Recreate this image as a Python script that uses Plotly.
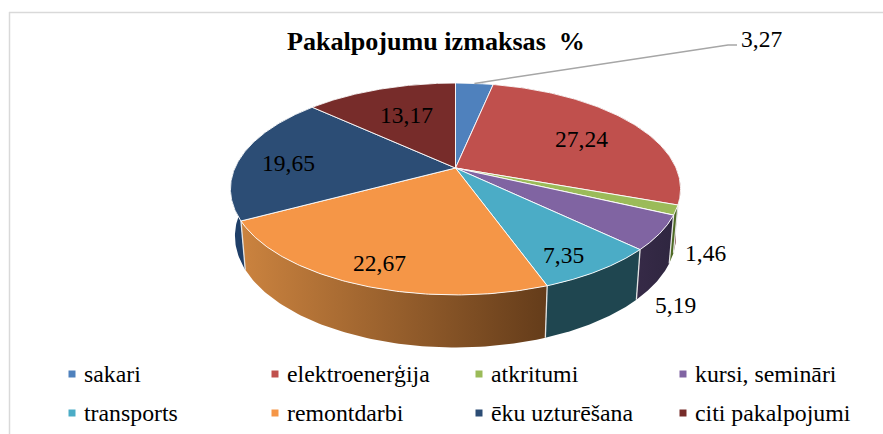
import numpy as np
import plotly.graph_objects as go

categories = ["sakari", "elektroenerģija", "atkritumi", "kursi, semināri",
              "transports", "remontdarbi", "ēku uzturēšana", "citi pakalpojumi"]
values = [3.27, 27.24, 1.46, 5.19, 7.35, 22.67, 19.65, 13.17]
value_labels = ["3,27", "27,24", "1,46", "5,19", "7,35", "22,67", "19,65", "13,17"]
top_colors = ["#4F81BD", "#C0504D", "#9BBB59", "#8064A2", "#4BACC6", "#F59647", "#2C4D75", "#772C2A"]
side_left = ["#2F4D71", "#733230", "#4E6A24", "#362A47", "#1F4650", "#CB833F", "#1F3F68", "#4A1C1A"]
side_right = ["#2F4D71", "#733230", "#4E6A24", "#2F2640", "#1F4650", "#643C1A", "#1F3F68", "#4A1C1A"]

FONT = "'Liberation Serif', 'Times New Roman', Times, serif"

# Page-pixel axes: projection of the tilted pie
CX, CY = 455.5, 168.0
A, B, K = 220.6, 101.8, 0.198
CY_B, B_B, SX_B = 214.0, 107.0, 0.98

label_xy = [(761, 39), (581, 139), (705, 253), (675, 305), (563, 255), (379, 263), (288, 163), (406, 115)]
legend_cols = [72, 275, 479, 683]
legend_rows = [374, 413]
TEXT_GAP = 9.5


def project(theta, bottom=False):
    u, v = np.sin(theta), np.cos(theta)
    w = 1 + K * v
    if bottom:
        return CX + SX_B * A * u / w, CY_B - B_B * v / w
    return CX + A * u / w, CY - B * v / w


fracs = np.array(values) / sum(values)
edges = np.concatenate([[0], np.cumsum(fracs)]) * 2 * np.pi

fig = go.Figure()

# frame
for x0, y0, x1, y1 in [(9, 12.5, 883, 12.5), (9.5, 12, 9.5, 434)]:
    fig.add_shape(type="line", x0=x0, y0=y0, x1=x1, y1=y1, line=dict(color="#D9D9D9", width=1.5))

# sides
for i, name in enumerate(categories):
    t = np.linspace(edges[i], edges[i + 1], 80)
    xt, yt = project(t)
    xb, yb = project(t[::-1], bottom=True)
    fig.add_trace(go.Scatter(
        x=np.r_[xt, xb, xt[0]], y=np.r_[yt, yb, yt[0]], mode="lines", fill="toself",
        line=dict(color="rgba(0,0,0,0)", width=0),
        fillgradient=dict(type="horizontal", colorscale=[[0, side_left[i]], [1, side_right[i]]]),
        hoverinfo="skip", showlegend=False))

# light separators between the side walls
sep_x, sep_y = [], []
for e in edges[:-1]:
    xt, yt = project(np.array([e]))
    xb, yb = project(np.array([e]), bottom=True)
    sep_x += [xt[0], xb[0], None]
    sep_y += [yt[0], yb[0], None]
fig.add_trace(go.Scatter(x=sep_x, y=sep_y, mode="lines", line=dict(color="#E4E4E4", width=1.3),
                         hoverinfo="skip", showlegend=False))

# top faces
for i, name in enumerate(categories):
    t = np.linspace(edges[i], edges[i + 1], 120)
    xt, yt = project(t)
    fig.add_trace(go.Scatter(
        x=np.r_[CX, xt, CX], y=np.r_[CY, yt, CY], mode="lines", fill="toself", name=name,
        line=dict(color="rgba(255,255,255,0.9)", width=1), fillcolor=top_colors[i],
        hoveron="fills", text=f"{name}: {value_labels[i]}", hoverinfo="text", showlegend=False))

# leader line for the first slice
mx, my = project(np.array([(edges[0] + edges[1]) / 2]))
fig.add_trace(go.Scatter(x=[mx[0], 728, 737], y=[my[0], 45, 45], mode="lines",
                         line=dict(color="#A6A6A6", width=1.5), hoverinfo="skip", showlegend=False))

# value labels
for (lx, ly), txt in zip(label_xy, value_labels):
    fig.add_annotation(x=lx, y=ly, text=txt, showarrow=False, xanchor="center", yanchor="middle",
                       font=dict(family=FONT, size=23.5, color="black"))

# legend
for i, name in enumerate(categories):
    lx, ly = legend_cols[i % 4], legend_rows[i // 4]
    fig.add_trace(go.Scatter(x=[lx], y=[ly], mode="markers", hoverinfo="skip", showlegend=False,
                             marker=dict(symbol="square", size=7, color=top_colors[i])))
    fig.add_annotation(x=lx + TEXT_GAP, y=ly, text=name, showarrow=False, xanchor="left", yanchor="middle",
                       font=dict(family=FONT, size=23.8, color="black"))

fig.update_layout(
    width=883, height=434, margin=dict(l=0, r=0, t=0, b=0), autosize=False,
    paper_bgcolor="white", plot_bgcolor="white",
    font=dict(family=FONT),
    title=dict(text="<b>Pakalpojumu izmaksas  %</b>", x=436 / 883, y=1 - 41 / 434,
               xanchor="center", yanchor="middle",
               font=dict(family=FONT, size=26.1, color="black")),
    xaxis=dict(range=[0, 883], visible=False, fixedrange=True),
    yaxis=dict(range=[434, 0], visible=False, fixedrange=True),
)
fig.write_html("out.html", config={"displayModeBar": False},
               post_script="document.body.style.margin='0';document.body.style.overflow='hidden';")
